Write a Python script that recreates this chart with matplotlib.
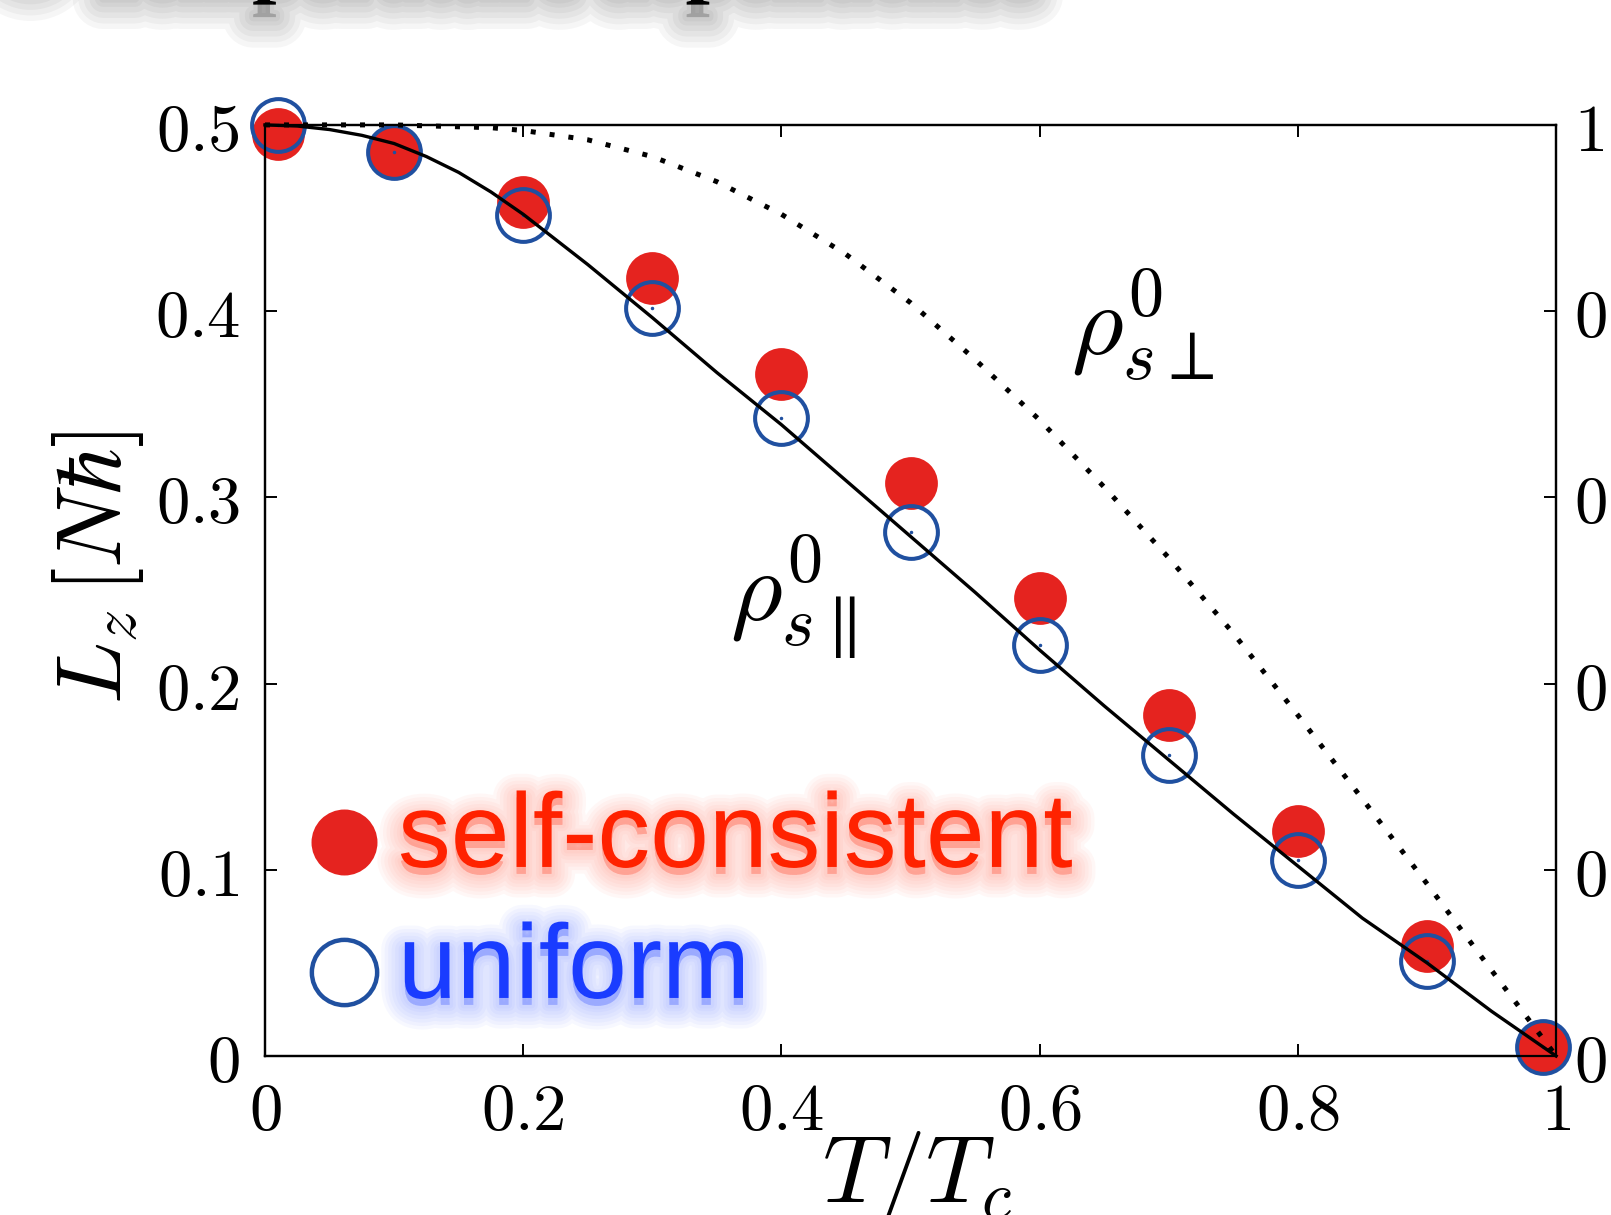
import matplotlib
matplotlib.use('Agg')
import matplotlib.pyplot as plt
from matplotlib import patheffects as pe

plt.rcParams['mathtext.fontset'] = 'cm'

# data points (T/Tc, Lz in N hbar)
t_pts = [0.01, 0.1, 0.2, 0.3, 0.4, 0.5, 0.6, 0.7, 0.8, 0.9, 0.99]
self_consistent = [0.495, 0.486, 0.4588, 0.418, 0.3663, 0.3079, 0.2461, 0.1831, 0.1208, 0.0591, 0.005]
uniform = [0.500, 0.4857, 0.4517, 0.4015, 0.3428, 0.2814, 0.2205, 0.1617, 0.1053, 0.0512, 0.005]

# curves
t_curve = [0.0, 0.025, 0.05, 0.075, 0.1, 0.125, 0.15, 0.175, 0.2, 0.25, 0.3, 0.35, 0.4, 0.45, 0.5,
           0.55, 0.6, 0.65, 0.7, 0.75, 0.8, 0.85, 0.9, 0.95, 1.0]
rho_par = [0.5, 0.4994, 0.4975, 0.4944, 0.490, 0.4830, 0.4745, 0.4640, 0.452, 0.425, 0.3965, 0.367,
           0.339, 0.309, 0.279, 0.249, 0.218, 0.188, 0.159, 0.130, 0.102, 0.074, 0.050, 0.024, 0.0]
rho_perp = [1.0, 1.0, 1.0, 1.0, 1.0, 0.999, 0.998, 0.997, 0.994, 0.984, 0.966, 0.939, 0.904, 0.861, 0.809,
            0.748, 0.683, 0.611, 0.535, 0.454, 0.366, 0.276, 0.185, 0.092, 0.0]

xticks = [0, 0.2, 0.4, 0.6, 0.8, 1]
xlabels = ['$0$', '$0.2$', '$0.4$', '$0.6$', '$0.8$', '$1$']
yticks = [0, 0.1, 0.2, 0.3, 0.4, 0.5]
ylabels = ['$0$', '$0.1$', '$0.2$', '$0.3$', '$0.4$', '$0.5$']
rticks = [0, 0.2, 0.4, 0.6, 0.8, 1]
rlabels = ['$0$', '$0.2$', '$0.4$', '$0.6$', '$0.8$', '$1$']

red = '#e5231f'
blue = '#2050a0'

fig = plt.figure(figsize=(16.11, 12.15), dpi=100)
ax = fig.add_axes([0.1645, 0.1309, 0.8014, 0.7663])
ax2 = ax.twinx()

ax.set_xlim(0, 1)
ax.set_ylim(0, 0.5)
ax2.set_ylim(0, 1)

ax.plot(t_pts, self_consistent, 'o', ms=38, color=red, mec=red, mew=0, clip_on=False, zorder=3)
ax.plot(t_pts, uniform, 'o', ms=38, mfc='none', mec=blue, mew=2.9, clip_on=False, zorder=4)
ax.plot(t_pts, uniform, '.', ms=3, color=blue, clip_on=False, zorder=4)
ax.plot(t_curve, rho_par, '-', color='k', lw=2.4, zorder=5, clip_on=False)
ax2.plot(t_curve, rho_perp, color='k', lw=3.6, ls=(0, (1, 2.8)), dash_capstyle='butt',
         zorder=5, clip_on=False)

ax.set_xticks(xticks)
ax.set_xticklabels(xlabels, fontsize=48)
ax.set_yticks(yticks)
ax.set_yticklabels(ylabels, fontsize=48)
ax2.set_yticks(rticks)
ax2.set_yticklabels(rlabels, fontsize=48)
ax.tick_params(axis='x', direction='in', length=8.6, width=1.4, pad=16, top=True)
ax.tick_params(axis='y', direction='in', length=8.6, width=1.4, pad=18)
ax2.tick_params(axis='y', direction='in', length=8.6, width=1.4, pad=13)
for a in (ax, ax2):
    for s in a.spines.values():
        s.set_linewidth(1.6)

fig.text(917 / 1611, 13 / 1215, r'$T/T_c$', fontsize=69, ha='center', va='baseline')
fig.text(50 / 1611, (1215 - 568) / 1215, r'$L_z\,[N\hbar]$', fontsize=66,
         rotation=90, ha='left', va='center')

ax.text(0.360, 0.234, r'$\rho^{0}_{s\parallel}$', fontsize=72, ha='left', va='baseline')
ax.text(0.624, 0.376, r'$\rho^{0}_{s\perp}$', fontsize=72, ha='left', va='baseline')


def glow(color, off):
    fx = [pe.Stroke(linewidth=w, foreground=color, alpha=0.045, offset=off)
          for w in (34, 29, 24, 19, 14, 9, 5)]
    return fx + [pe.Normal()]


# legend
ax.plot([0.0612], [0.2299], 'o', ms=47.5, color=red, mew=0, transform=ax.transAxes, clip_on=False)
ax.plot([0.0612], [0.0902], 'o', ms=47, mfc='white', mec=blue, mew=3.2,
        transform=ax.transAxes, clip_on=False)
ax.text(0.103, 0.203, 'self-consistent', fontsize=76, color='#ff2200', family='Liberation Sans',
        transform=ax.transAxes, ha='left', va='baseline',
        path_effects=glow('#ff5a40', (0, -5)))
ax.text(0.103, 0.0623, 'uniform', fontsize=76, color='#1a3cff', family='Liberation Sans',
        transform=ax.transAxes, ha='left', va='baseline',
        path_effects=glow('#4a6aff', (0, -5)))

# title cut off at the top of the slide
shadow = [pe.Stroke(linewidth=w, foreground='k', alpha=0.035, offset=(0, -9))
          for w in (44, 36, 28, 20, 12, 6)]
fig.text(90 / 1611, 1 + 14 / 1215, 'Temperature dependence', fontsize=63, weight='bold',
         family='Liberation Serif', ha='left', va='baseline',
         path_effects=shadow + [pe.Normal()])
fig.text(-12 / 1611, 1 + 34 / 1215, '\u25cf', fontsize=70, color='k', ha='left', va='baseline',
         path_effects=shadow + [pe.Normal()])

fig.savefig('out.png', dpi=100)
